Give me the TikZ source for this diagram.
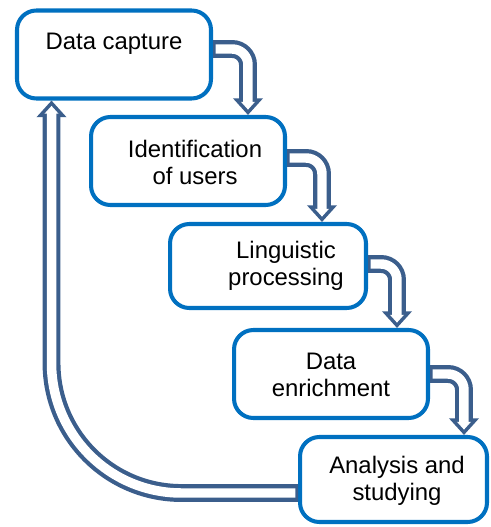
\documentclass[tikz,border=0pt]{standalone}
\usepackage{fontspec}
\setmainfont{Liberation Sans}
\usetikzlibrary{arrows.meta}
\definecolor{boxblue}{RGB}{0,112,192}
\definecolor{flowblue}{RGB}{59,94,140}
\tikzset{
  stage/.style   = {shape=rectangle, rounded corners=11pt,
                    draw=boxblue, line width=2.3pt, fill=white,
                    minimum width=3.88cm, minimum height=1.76cm},
  caption/.style = {align=center, inner sep=0pt,
                    font=\fontsize{13.6}{15.4}\selectfont},
  flow/.style    = {draw=flowblue, line width=10.2pt, rounded corners=9pt,
                    -{Triangle[length=9.5pt,width=16.5pt]},
                    postaction={draw=white, line width=5.4pt,
                      shorten <=1.5pt, shorten >=3.05pt,
                      -{Triangle[length=4.45pt,width=7.7pt]}}}
}

\begin{document}
\begin{tikzpicture}[x=0.02cm, y=-0.02cm]
  \useasboundingbox (0,0) rectangle (490,527);
  % the five stages
  \node [stage] (capture) at (114,54.5) {};
  \node [stage] (users)   at (188,161) {};
  \node [stage, minimum width=3.92cm, minimum height=1.68cm] (ling) at (268,266) {};
  \node [stage] (enrich)  at (331,374) {};
  \node [stage, minimum width=3.74cm, minimum height=1.7cm] (study) at (393.5,479.5) {};
  \node [caption] (tcapture) at (114,44)  {Data capture};
  \node [caption] (tusers)   at (195,162) {Identification\\of users};
  \node [caption] (tling)    at (286,266) {Linguistic\\processing};
  \node [caption] (tenrich)  at (331,375) {Data\\enrichment};
  \node [caption] (tstudy)   at (397,481) {Analysis and\\studying};
  % steps down
  \draw [flow] ([yshift=0.11cm]capture.east) -| ([xshift=1.2cm]users.north);
  \draw [flow] ([yshift=0.06cm]users.east) -| ([xshift=1.08cm]ling.north);
  \draw [flow] ([yshift=0.04cm]ling.east) -| ([xshift=1.32cm]enrich.north);
  \draw [flow] (enrich.east) -| ([xshift=1.41cm]study.north);
  % back to the start
  \draw [flow, rounded corners=2.6cm] ([yshift=-0.27cm]study.west) -| ([xshift=-1.25cm]capture.south);
\end{tikzpicture}
\end{document}
